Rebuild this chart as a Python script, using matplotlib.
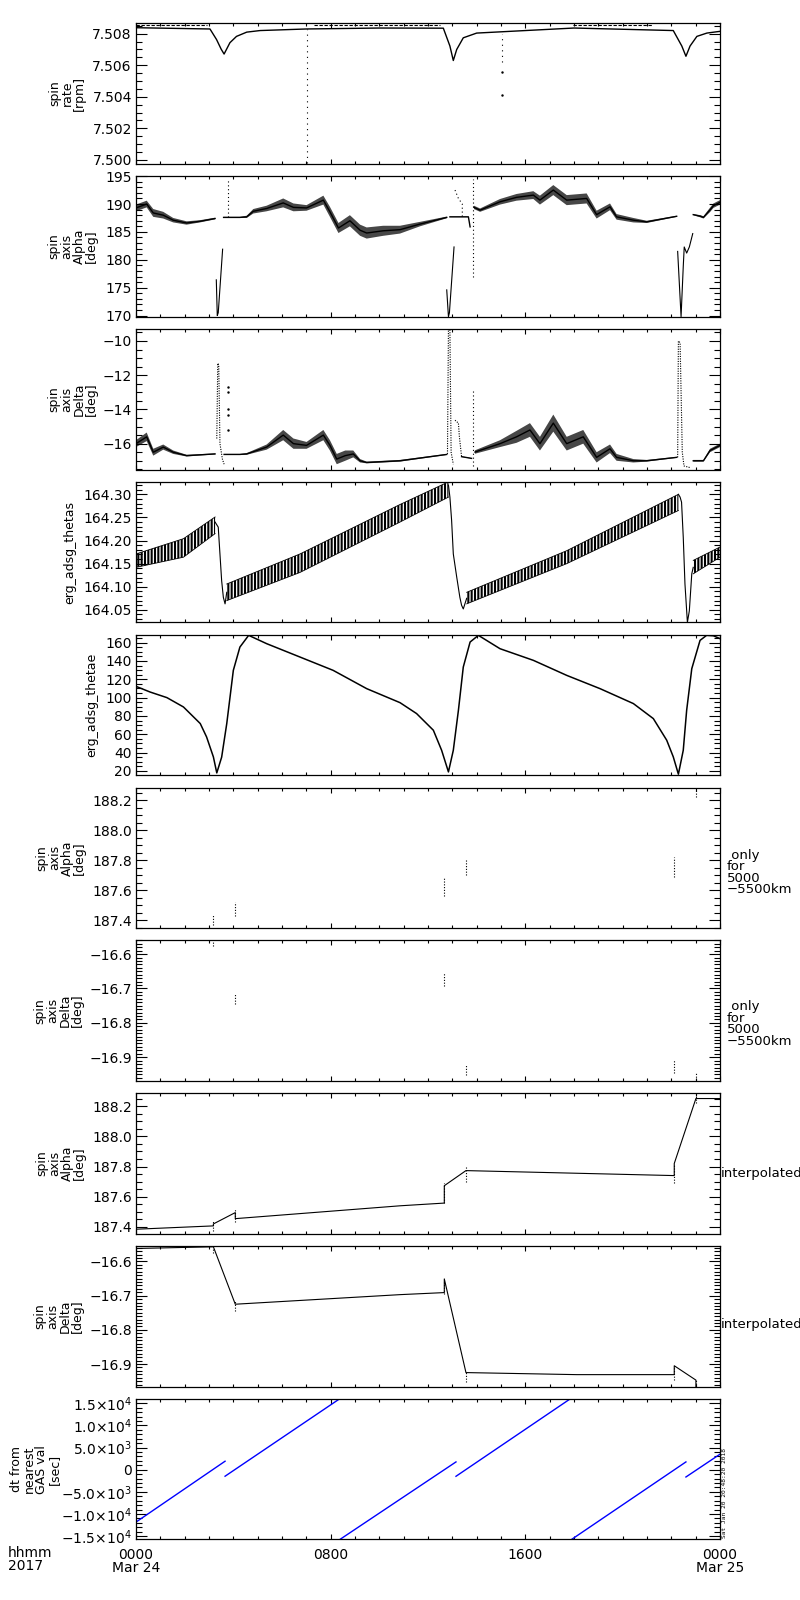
import numpy as np
import matplotlib
matplotlib.use("Agg")
import matplotlib.pyplot as plt
from matplotlib.ticker import MultipleLocator, FuncFormatter

nan = np.nan

# time axis, hours after 2017-03-24 0000
xtick_hours = [0, 8, 16, 24]
xtick_labels = ["0000\nMar 24", "0800", "1600", "0000\nMar 25"]

# spin rate [rpm]
rate_t = [0.0, 3.04, 3.31, 3.50, 3.62, 3.86, 4.13, 4.55, 5.10, 7.00, 10.0, 12.63, 12.90,
          13.04, 13.18, 13.45, 14.00, 18.0, 22.08, 22.43, 22.60, 22.77, 23.05, 23.46, 24.0]
rate_v = [7.50838, 7.50830, 7.50763, 7.50702, 7.50671, 7.50743, 7.50783, 7.50810, 7.50820,
          7.50830, 7.50836, 7.50835, 7.50722, 7.50630, 7.50700, 7.50774, 7.50804, 7.50836,
          7.50820, 7.50722, 7.50657, 7.50722, 7.50783, 7.50804, 7.50815]
rate_top_t = [0.0, 2.9, nan, 7.3, 12.5, nan, 17.96, 21.25]
rate_top_v = [7.50855, 7.50855, nan, 7.50855, 7.50855, nan, 7.50855, 7.50855]
rate_drop_t = [7.01, 15.03]
rate_drop_lo = [7.4998, 7.5062]
rate_drop_hi = [7.5083, 7.5080]
rate_dot_t = [15.03, 15.03]
rate_dot_v = [7.5056, 7.5041]

# spin axis alpha [deg]
alpha_t = [0.0, 0.44, 0.71, 1.12, 1.53, 2.08, 2.63, 3.25, nan,
           3.60, 4.27, 4.55, 4.82, 5.37, 6.05, 6.47, 7.01, 7.70, 7.97, 8.32, 8.79, 9.21, 9.48,
           10.16, 10.85, 11.67, 12.77, nan,
           12.90, 13.66, 13.73, nan,
           13.89, 14.14, 14.96, 15.64, 16.33, 16.60, 17.15, 17.70, 18.52, 18.93, 19.48, 19.75,
           20.44, 20.99, 22.22, nan,
           22.90, 23.20, 23.32, 23.60, 23.73, 24.0]
alpha_v = [189.3, 190.0, 188.4, 188.0, 187.1, 186.6, 186.9, 187.4, nan,
           187.6, 187.6, 187.7, 188.7, 189.2, 190.2, 189.4, 189.3, 190.7, 188.6, 185.7, 187.0,
           185.3, 184.8, 185.2, 185.4, 186.4, 187.6, nan,
           187.7, 187.7, 185.9, nan,
           189.4, 188.9, 190.4, 191.2, 191.6, 190.7, 192.5, 190.7, 191.0, 188.1, 189.5, 187.7,
           187.1, 186.8, 187.8, nan,
           188.1, 187.8, 187.6, 189.0, 189.7, 190.3]
alpha_w = [0.6, 0.6, 0.7, 0.6, 0.4, 0.3, 0.2, 0.15, nan,
           0.1, 0.1, 0.2, 0.4, 0.5, 0.8, 0.7, 0.5, 0.8, 0.9, 0.9, 1.0, 1.0, 1.0, 0.9, 0.7,
           0.4, 0.15, nan,
           0.05, 0.05, 0.05, nan,
           0.3, 0.3, 0.5, 0.6, 0.7, 0.8, 0.9, 0.9, 0.9, 0.7, 0.6, 0.5, 0.4, 0.2, 0.1, nan,
           0.1, 0.2, 0.2, 0.4, 0.4, 0.4]
alpha_dip_t = [3.30, 3.34, 3.38, 3.56, nan, 12.77, 12.84, 12.88, 13.07, nan,
               22.26, 22.40, 22.49, 22.53, 22.63, 22.74, 22.88]
alpha_dip_v = [176.4, 170.0, 170.5, 181.9, nan, 174.6, 169.8, 170.5, 182.3, nan,
               181.5, 169.8, 178.8, 182.3, 181.2, 182.3, 184.7]
alpha_hook_t = [13.11, 13.25, 13.41, 13.41]
alpha_hook_v = [192.5, 191.0, 190.0, 187.7]
alpha_jump_t = [3.79, 13.84]
alpha_jump_lo = [187.6, 177.0]
alpha_jump_hi = [194.5, 194.5]

# spin axis delta [deg]
delta_t = [0.0, 0.44, 0.71, 1.12, 1.53, 2.08, 3.25, nan,
           3.62, 4.27, 4.55, 5.37, 6.05, 6.47, 7.01, 7.70, 7.97, 8.25, 8.60, 8.93, 9.21, 9.48,
           10.85, 12.77, nan,
           13.38, 13.79, nan,
           13.93, 14.96, 15.64, 16.19, 16.60, 17.15, 17.70, 18.38, 18.93, 19.48, 19.75, 20.44,
           20.99, 22.22, nan,
           22.90, 23.32, 23.59, 24.0]
delta_v = [-16.0, -15.6, -16.5, -16.2, -16.5, -16.7, -16.6, nan,
           -16.63, -16.63, -16.6, -16.2, -15.5, -16.0, -16.1, -15.5, -16.1, -16.9, -16.7, -16.6,
           -17.0, -17.1, -17.0, -16.63, nan,
           -16.76, -16.86, nan,
           -16.49, -16.0, -15.6, -15.2, -16.0, -14.8, -16.0, -15.6, -16.8, -16.3, -16.8, -17.0,
           -17.0, -16.8, nan,
           -17.0, -17.0, -16.4, -16.1]
delta_w = [0.2, 0.25, 0.2, 0.15, 0.1, 0.05, 0.03, nan,
           0.03, 0.03, 0.05, 0.15, 0.3, 0.3, 0.2, 0.3, 0.3, 0.3, 0.3, 0.2, 0.1, 0.05, 0.05,
           0.03, nan,
           0.02, 0.02, nan,
           0.1, 0.2, 0.35, 0.4, 0.4, 0.5, 0.4, 0.4, 0.3, 0.25, 0.2, 0.1, 0.05, 0.03, nan,
           0.05, 0.05, 0.1, 0.1]
delta_spike_t = [3.32, 3.36, 3.40, 3.45, 3.55, 3.62, nan, 12.80, 12.84, 12.90, 12.95, 13.04, nan,
                 13.11, 13.25, 13.29, 13.38, nan, 22.26, 22.29, 22.36, 22.45, 22.52, 22.77]
delta_spike_v = [-15.7, -11.3, -11.4, -16.0, -16.9, -17.2, nan, -16.6, -9.3, -9.3, -16.5, -17.2,
                 nan, -14.63, -14.8, -15.6, -16.76, nan, -16.8, -10.0, -10.1, -16.5, -17.3, -17.4]
delta_dot_t = [3.79, 3.79, 3.79, 3.79, 3.79]
delta_dot_v = [-12.68, -12.97, -13.95, -14.34, -15.22]
delta_jump_t = [13.86]
delta_jump_lo = [-17.3]
delta_jump_hi = [-12.8]

# erg_adsg_thetas, upper/lower envelope of the spin modulation
thetas_t = [0.0, 1.95, 3.25, nan, 3.73, 6.74, 10.85, 12.84, nan, 13.59, 17.70, 22.29, nan,
            22.90, 24.0]
thetas_hi = [164.171, 164.204, 164.251, nan, 164.106, 164.171, 164.278, 164.327, nan,
             164.088, 164.178, 164.300, nan, 164.157, 164.186]
thetas_lo = [164.142, 164.164, 164.215, nan, 164.070, 164.131, 164.240, 164.294, nan,
             164.063, 164.150, 164.265, nan, 164.128, 164.164]
thetas_drop_t = [3.25, 3.38, 3.45, 3.52, 3.59, 3.66, 3.73, nan,
                 12.84, 12.90, 12.97, 13.04, 13.18, 13.31, 13.38, 13.45, 13.59, nan,
                 22.29, 22.36, 22.42, 22.49, 22.56, 22.66, 22.74, 22.84, 22.90]
thetas_drop_v = [164.24, 164.229, 164.171, 164.113, 164.077, 164.063, 164.088, nan,
                 164.32, 164.294, 164.244, 164.171, 164.121, 164.077, 164.060, 164.052, 164.075, nan,
                 164.30, 164.294, 164.283, 164.207, 164.106, 164.023, 164.048, 164.128, 164.142]

# erg_adsg_thetae
thetae_t = [0.0, 0.58, 1.27, 1.95, 2.64, 2.90, 3.18, 3.32, 3.52, 3.73, 4.00, 4.27, 4.63, 5.37,
            6.74, 8.10, 9.48, 10.85, 11.53, 12.22, 12.56, 12.84, 13.04, 13.25, 13.45, 13.73,
            14.07, 14.96, 16.33, 17.70, 19.07, 20.44, 21.26, 21.81, 22.08, 22.29, 22.49, 22.63,
            22.84, 23.18, 23.45, 23.73, 24.0]
thetae_v = [112.3, 106.1, 100.0, 89.8, 71.7, 57.1, 35.3, 17.8, 35.0, 71.7, 129.8, 155.2, 168.0,
            158.9, 144.3, 129.8, 109.8, 94.5, 82.6, 64.4, 42.5, 18.9, 42.5, 86.2, 133.4, 160.7,
            168.0, 153.4, 140.7, 124.3, 109.8, 93.5, 77.1, 53.5, 35.3, 16.4, 42.5, 86.2, 131.6,
            162.5, 168.0, 167.5, 164.4]

# spin axis only for 5000-5500 km
only_t = [3.18, 4.08, 12.67, 13.56, 22.12, 23.02]
only_alpha_lo = [187.37, 187.43, 187.56, 187.70, 187.69, 188.22]
only_alpha_hi = [187.44, 187.52, 187.69, 187.80, 187.82, 188.28]
only_delta_lo = [-16.575, -16.745, -16.694, -16.952, -16.946, -16.967]
only_delta_hi = [-16.560, -16.716, -16.655, -16.923, -16.908, -16.946]

# interpolated spin axis
interp_alpha_t = [0.0, 3.18, 3.18, 4.08, 4.08, 10.85, 12.67, 12.67, 13.56, 22.12, 22.12, 23.01, 24.0]
interp_alpha_v = [187.385, 187.407, 187.42, 187.495, 187.455, 187.54, 187.558, 187.673,
                  187.773, 187.74, 187.82, 188.25, 188.25]
interp_delta_t = [0.0, 3.18, 4.08, 10.85, 12.67, 12.67, 13.56, 18.11, 22.12, 22.12, 23.01, 23.01]
interp_delta_v = [-16.562, -16.557, -16.725, -16.697, -16.691, -16.651, -16.925, -16.931,
                  -16.931, -16.905, -16.947, -16.969]

# dt from nearest GAS val [sec]
dt_t = [0.0, 3.66, nan, 3.66, 8.36, nan, 8.38, 13.15, nan, 13.15, 17.84, nan, 17.90, 22.60, nan,
        22.60, 24.0]
dt_v = [-11830, 1914, nan, -1474, 15975, nan, -15750, 1755, nan, -1488, 15975, nan, -15750, 1755,
        nan, -1647, 3502]
dt_ticks = [-15000, -10000, -5000, 0, 5000, 10000, 15000]
dt_tick_labels = [r"$-1.5{\times}10^{4}$", r"$-1.0{\times}10^{4}$", r"$-5.0{\times}10^{3}$", "0",
                  r"$5.0{\times}10^{3}$", r"$1.0{\times}10^{4}$", r"$1.5{\times}10^{4}$"]

plt.rcParams["font.family"] = ["DejaVu Sans"]
plt.rcParams["axes.linewidth"] = 0.9
plt.rcParams["hatch.linewidth"] = 1.5
plt.rcParams["hatch.color"] = "black"

LEFT, WIDTH = 136, 584


def minus_fmt(fmt):
    return FuncFormatter(lambda v, pos: (fmt % v).replace("-", "\u2212"))


def style(ax, ylim, major, minor, fmt, label, label_right):
    ax.set_xlim(0, 24)
    ax.set_ylim(*ylim)
    ax.xaxis.set_major_locator(MultipleLocator(8))
    ax.xaxis.set_minor_locator(MultipleLocator(1))
    ax.yaxis.set_major_locator(MultipleLocator(major))
    ax.yaxis.set_minor_locator(MultipleLocator(minor))
    if fmt:
        ax.yaxis.set_major_formatter(minus_fmt(fmt))
    ax.tick_params(which="both", direction="in", top=True, right=True, labelbottom=False,
                   labelsize=10, pad=3, width=0.8)
    ax.tick_params(axis="y", which="major", length=7.7)
    ax.tick_params(axis="y", which="minor", length=4)
    ax.tick_params(axis="x", which="major", length=3.4)
    ax.tick_params(axis="x", which="minor", length=2.2)
    ax.set_ylabel(label, fontsize=9, linespacing=0.95)
    # right edge of the label block, in pixels from the figure's left side
    ax.yaxis.set_label_coords((label_right - LEFT) / WIDTH, 0.5)


fig = plt.figure(figsize=(8, 16), dpi=100)
axes = []
for i in range(10):
    top = 23.3 + i * 152.85
    axes.append(fig.add_axes([LEFT / 800, 1 - (top + 140.5) / 1600, WIDTH / 800, 140.5 / 1600]))

dots = (0, (1, 2.5))
lw = 0.8

# 1 spin rate
ax = axes[0]
ax.plot(rate_t, rate_v, color="k", lw=1.0)
ax.plot(rate_top_t, rate_top_v, color="k", lw=0.8, ls=(0, (3, 1.5)))
ax.vlines(rate_drop_t, rate_drop_lo, rate_drop_hi, colors="k", lw=lw, linestyles=(0, (1, 4)))
ax.plot(rate_dot_t, rate_dot_v, "k.", ms=1.5)
style(ax, (7.49975, 7.50866), 0.002, 0.0005, "%.3f", "spin\nrate\n[rpm]", 86)

# 2 spin axis alpha
ax = axes[1]
a_t, a_v, a_w = np.array(alpha_t), np.array(alpha_v), np.array(alpha_w)
ax.fill_between(a_t, a_v - a_w, a_v + a_w, color="k", lw=0, alpha=0.72)
ax.plot(a_t, a_v, color="k", lw=1.0)
ax.plot(alpha_dip_t, alpha_dip_v, color="k", lw=lw)
ax.plot(alpha_hook_t, alpha_hook_v, color="k", lw=lw, ls=dots)
ax.vlines(alpha_jump_t, alpha_jump_lo, alpha_jump_hi, colors="k", lw=lw, linestyles=dots)
style(ax, (169.8, 195.0), 5, 1, "%.0f", "spin\naxis\nAlpha\n[deg]", 98)

# 3 spin axis delta
ax = axes[2]
d_t, d_v, d_w = np.array(delta_t), np.array(delta_v), np.array(delta_w)
ax.fill_between(d_t, d_v - d_w, d_v + d_w, color="k", lw=0, alpha=0.72)
ax.plot(d_t, d_v, color="k", lw=1.0)
ax.plot(delta_spike_t, delta_spike_v, color="k", lw=lw, ls=(0, (1, 1.2)))
ax.plot(delta_dot_t, delta_dot_v, "k.", ms=1.5)
ax.vlines(delta_jump_t, delta_jump_lo, delta_jump_hi, colors="k", lw=lw, linestyles=dots)
style(ax, (-17.51, -9.30), 2, 0.5, "%.0f", "spin\naxis\nDelta\n[deg]", 98)

# 4 thetas
ax = axes[3]
ax.fill_between(thetas_t, thetas_lo, thetas_hi, facecolor="none", edgecolor="k",
                hatch="|||||", lw=0)
ax.plot(thetas_t, thetas_hi, color="k", lw=0.6)
ax.plot(thetas_t, thetas_lo, color="k", lw=0.6)
ax.plot(thetas_drop_t, thetas_drop_v, color="k", lw=lw)
style(ax, (164.023, 164.327), 0.05, 0.01, "%.2f", "erg_adsg_thetas", 76)

# 5 thetae
ax = axes[4]
ax.plot(thetae_t, thetae_v, color="k", lw=1.1)
style(ax, (15.3, 168.7), 20, 5, "%.0f", "erg_adsg_thetae", 98)

# 6 / 7 only for 5000-5500 km
ax = axes[5]
ax.vlines(only_t, only_alpha_lo, only_alpha_hi, colors="k", lw=lw, linestyles=(0, (1, 1.5)))
style(ax, (187.349, 188.285), 0.2, 0.05, "%.1f", "spin\naxis\nAlpha\n[deg]", 86)
ax.text(1.012, 0.397, " only\nfor\n5000\n\u22125500km", transform=ax.transAxes, ha="left",
        va="center", fontsize=9.5, linespacing=0.85)

ax = axes[6]
ax.vlines(only_t, only_delta_lo, only_delta_hi, colors="k", lw=lw, linestyles=(0, (1, 1.5)))
style(ax, (-16.969, -16.560), 0.1, 0.01, "%.1f", "spin\naxis\nDelta\n[deg]", 84)
ax.text(1.012, 0.406, " only\nfor\n5000\n\u22125500km", transform=ax.transAxes, ha="left",
        va="center", fontsize=9.5, linespacing=0.85)

# 8 / 9 interpolated
ax = axes[7]
ax.plot(interp_alpha_t, interp_alpha_v, color="k", lw=lw)
ax.vlines(only_t, only_alpha_lo, only_alpha_hi, colors="k", lw=lw, linestyles=(0, (1, 1.5)))
style(ax, (187.355, 188.285), 0.2, 0.05, "%.1f", "spin\naxis\nAlpha\n[deg]", 86)
ax.text(1.002, 0.428, "interpolated", transform=ax.transAxes, ha="left", va="center",
        fontsize=9.5)

ax = axes[8]
ax.plot(interp_delta_t, interp_delta_v, color="k", lw=lw)
ax.vlines(only_t, only_delta_lo, only_delta_hi, colors="k", lw=lw, linestyles=(0, (1, 1.5)))
style(ax, (-16.966, -16.555), 0.1, 0.01, "%.1f", "spin\naxis\nDelta\n[deg]", 84)
ax.text(1.002, 0.44, "interpolated", transform=ax.transAxes, ha="left", va="center",
        fontsize=9.5)

# 10 dt from nearest GAS value
ax = axes[9]
ax.plot(dt_t, dt_v, color="#0000ff", lw=1.0)
style(ax, (-15750, 15975), 5000, 1000, None, "dt from\nnearest\nGAS val\n[sec]", 61)
ax.set_yticks(dt_ticks)
ax.set_yticklabels(dt_tick_labels)
ax.set_xticks(xtick_hours)
ax.set_xticklabels(xtick_labels)
ax.tick_params(axis="x", labelbottom=True, pad=6)
for t in ax.get_xticklabels():
    t.set_linespacing(0.9)

fig.text(8 / 800, 1 - 1546 / 1600, "hhmm\n2017", ha="left", va="top", fontsize=10,
         linespacing=0.9)
fig.text(725 / 800, 1 - 1538 / 1600, "Sat Jan 20 20:48:20 2018", rotation=90, fontsize=4.5,
         family="DejaVu Sans Mono", ha="center", va="bottom")

fig.savefig("out.png", dpi=100)
